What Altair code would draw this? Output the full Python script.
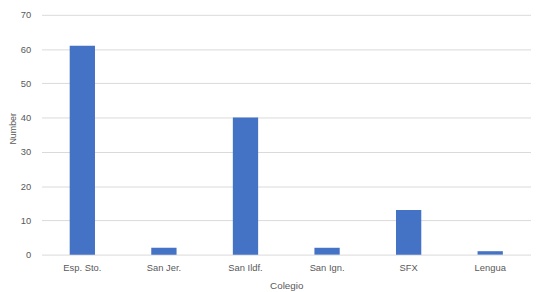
import altair as alt
import pandas as pd

categories = ["Esp. Sto.", "San Jer.", "San Ildf.", "San Ign.", "SFX", "Lengua"]
values = [61, 2, 40, 2, 13, 1]

df = pd.DataFrame({"Colegio": categories, "Number": values})

font = "Liberation Sans"
grey = "#595959"

chart = alt.Chart(df).mark_bar(color="#4472c4").encode(
    x=alt.X(
        "Colegio:N",
        sort=categories,
        scale=alt.Scale(paddingInner=0.69, paddingOuter=0.345),
        axis=alt.Axis(
            title="Colegio",
            labelAngle=0,
            ticks=False,
            domain=False,
            labelPadding=8,
            titlePadding=9,
            labelFont=font,
            titleFont=font,
            labelFontSize=9.5,
            titleFontSize=10,
            labelColor=grey,
            titleColor=grey,
            titleFontWeight="normal",
        ),
    ),
    y=alt.Y(
        "Number:Q",
        scale=alt.Scale(domain=[0, 70], nice=False),
        axis=alt.Axis(
            title="Number",
            values=[0, 10, 20, 30, 40, 50, 60, 70],
            ticks=False,
            domain=False,
            gridColor="#d9d9d9",
            gridWidth=1,
            labelPadding=11,
            labelFont=font,
            titleFont=font,
            labelFontSize=9.5,
            titleFontSize=9,
            labelColor=grey,
            titleColor=grey,
            titleFontWeight="normal",
            titleX=-29,
            titleY=115,
            titleAngle=270,
            titleBaseline="middle",
            titleAlign="center",
        ),
    ),
).properties(
    width=496,
    height=243,
    autosize=alt.AutoSizeParams(type="none"),
    padding={"left": 34, "top": 5, "right": 0, "bottom": 40},
).configure_view(stroke=None)

chart.save("out.html", embed_options={"renderer": "svg", "actions": False})
